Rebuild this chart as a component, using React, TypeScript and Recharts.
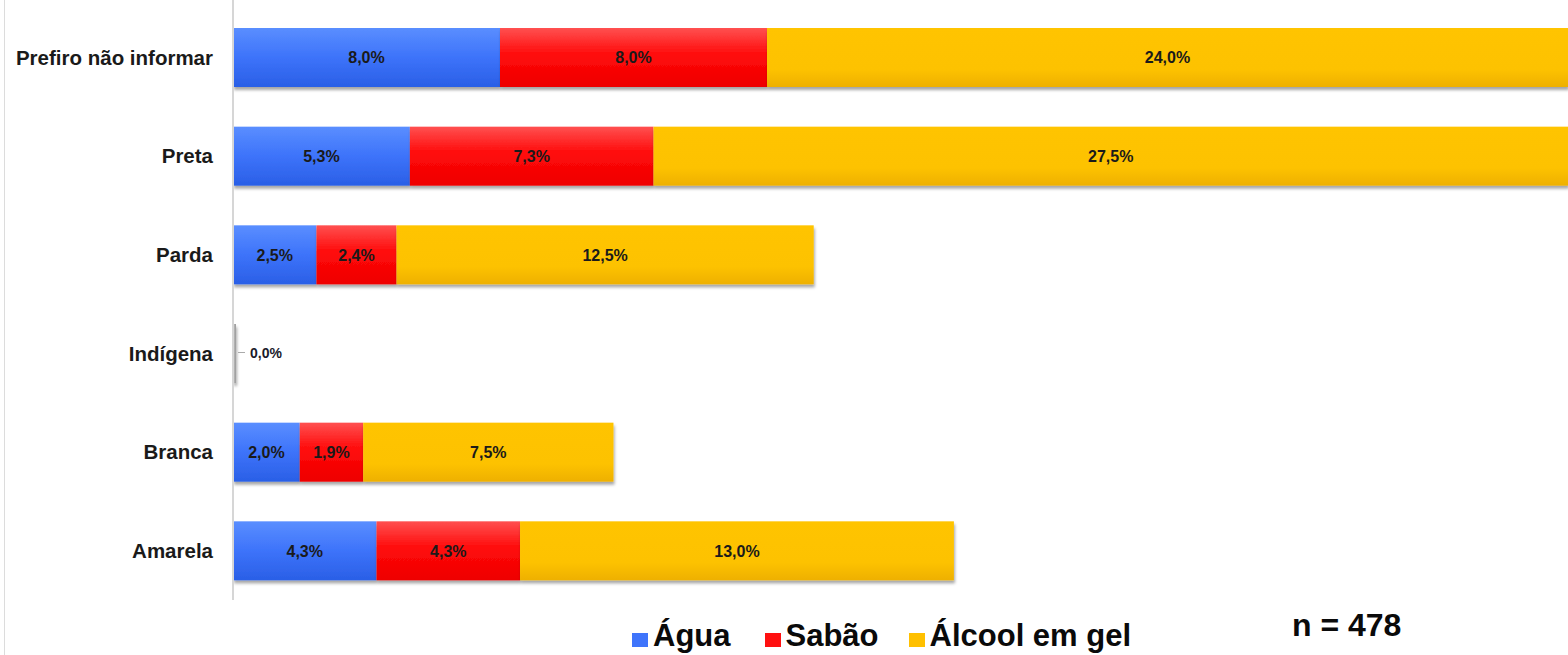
import React from 'react';
import { BarChart, Bar, XAxis, YAxis, LabelList } from 'recharts';

const categories = ['Prefiro não informar', 'Preta', 'Parda', 'Indígena', 'Branca', 'Amarela'];
const agua = [8.0, 5.3, 2.5, 0.0, 2.0, 4.3];
const sabao = [8.0, 7.3, 2.4, 0.0, 1.9, 4.3];
const alcool = [24.0, 27.5, 12.5, 0.0, 7.5, 13.0];
const seriesNames = ['Água', 'Sabão', 'Álcool em gel'];
const sampleNote = 'n = 478';

const data = categories.map((c, i) => ({ cat: c, agua: agua[i], sabao: sabao[i], alcool: alcool[i] }));

const fmt = (v: number) => v.toFixed(1).replace('.', ',') + '%';
const FONT = '"Liberation Sans", Arial, Helvetica, sans-serif';

const makeLabel = (isLast: boolean) => (props: any) => {
  const { x, y, width, height, value } = props;
  const cy = y + height / 2;
  if (!value) {
    if (!isLast) return null;
    return (
      <g>
        <line x1={x + 5} x2={x + 12} y1={cy - 1} y2={cy - 1} stroke="#aaa" strokeWidth={1} />
        <text x={x + 17} y={cy} dy="0.35em" fontFamily={FONT} fontWeight="bold" fontSize={14} fill="#1a1a2a">
          {fmt(value)}
        </text>
      </g>
    );
  }
  return (
    <text x={x + width / 2} y={cy} dy="0.36em" textAnchor="middle" fontFamily={FONT} fontWeight="bold" fontSize={16} fill="#1a1a1a">
      {fmt(value)}
    </text>
  );
};

const makeShape = (grad: string, isLast: boolean) => (props: any) => {
  const { x, y, width, height } = props;
  if (!width || width < 0.5) {
    if (!isLast) return <g />;
    return <rect x={x} y={y} width={3} height={height} fill="url(#gGray)" />;
  }
  return <rect x={x} y={y} width={width} height={height} fill={`url(#${grad})`} />;
};

const legendColors = ['#3f74fb', '#ff1010', '#ffc000'];

export default function App() {
  return (
    <div style={{ position: 'absolute', left: 0, top: 0, width: 1568, height: 655, background: '#fff', overflow: 'hidden', fontFamily: FONT }}>
      <style>{`.recharts-bar-rectangles { filter: url(#barShadow); }`}</style>
      <div style={{ position: 'absolute', left: 4, top: 0, width: 1, height: 655, background: '#dcdcdc' }} />
      <div style={{ position: 'absolute', left: 232, top: 0, width: 2, height: 8, background: '#d6d6d6' }} />
      <BarChart
        width={1568}
        height={655}
        data={data}
        layout="vertical"
        margin={{ top: 8, right: 0, bottom: 55, left: 0 }}
        barCategoryGap={20}
        style={{ position: 'absolute', left: 0, top: 0 }}
      >
        <defs>
          <linearGradient id="gBlue" x1="0" y1="0" x2="0" y2="1">
            <stop offset="0%" stopColor="#5a8eff" />
            <stop offset="50%" stopColor="#3d73fa" />
            <stop offset="100%" stopColor="#2a5fe6" />
          </linearGradient>
          <linearGradient id="gRed" x1="0" y1="0" x2="0" y2="1">
            <stop offset="0%" stopColor="#ff5050" />
            <stop offset="45%" stopColor="#ff0a0a" />
            <stop offset="100%" stopColor="#ee0000" />
          </linearGradient>
          <linearGradient id="gYellow" x1="0" y1="0" x2="0" y2="1">
            <stop offset="0%" stopColor="#ffc400" />
            <stop offset="70%" stopColor="#fdc200" />
            <stop offset="100%" stopColor="#eeb000" />
          </linearGradient>
          <linearGradient id="gGray" x1="0" y1="0" x2="1" y2="0">
            <stop offset="0%" stopColor="#c8c8c8" />
            <stop offset="100%" stopColor="#999" />
          </linearGradient>
          <filter id="barShadow" x="-5%" y="-20%" width="110%" height="150%">
            <feDropShadow dx="1" dy="3" stdDeviation="1.6" floodColor="#000" floodOpacity="0.35" />
          </filter>
        </defs>
        <XAxis type="number" domain={[0, 40]} allowDataOverflow hide />
        <YAxis
          type="category"
          dataKey="cat"
          width={233}
          axisLine={{ stroke: '#d6d6d6', strokeWidth: 2 }}
          tickLine={false}
          tickSize={0}
          tickMargin={20}
          tick={{ fontFamily: FONT, fontWeight: 'bold', fontSize: 20.5, fill: '#1a1a1a' }}
        />
        <Bar dataKey="agua" stackId="s" isAnimationActive={false} shape={makeShape('gBlue', false)} name={seriesNames[0]}>
          <LabelList dataKey="agua" content={makeLabel(false)} />
        </Bar>
        <Bar dataKey="sabao" stackId="s" isAnimationActive={false} shape={makeShape('gRed', false)} name={seriesNames[1]}>
          <LabelList dataKey="sabao" content={makeLabel(false)} />
        </Bar>
        <Bar dataKey="alcool" stackId="s" isAnimationActive={false} shape={makeShape('gYellow', true)} name={seriesNames[2]}>
          <LabelList dataKey="alcool" content={makeLabel(true)} />
        </Bar>
      </BarChart>
      <div style={{ position: 'absolute', left: 632, top: 606, height: 47, display: 'flex', alignItems: 'flex-end', whiteSpace: 'nowrap' }}>
        {seriesNames.map((n, i) => (
          <div key={n} style={{ display: 'flex', alignItems: 'flex-end', marginRight: i === 0 ? 34 : 30 }}>
            <span style={{ display: 'inline-block', width: 16, height: 14, background: legendColors[i], marginRight: 5, marginBottom: 6 }} />
            <span style={{ fontWeight: 'bold', fontSize: 31, lineHeight: '34px', color: '#0a0a0a', position: 'relative', top: 0 }}>{n}</span>
          </div>
        ))}
      </div>
      <div style={{ position: 'absolute', left: 1292, top: 605, fontWeight: 'bold', fontSize: 32, lineHeight: '40px', color: '#0a0a0a', whiteSpace: 'nowrap' }}>
        {sampleNote}
      </div>
    </div>
  );
}
